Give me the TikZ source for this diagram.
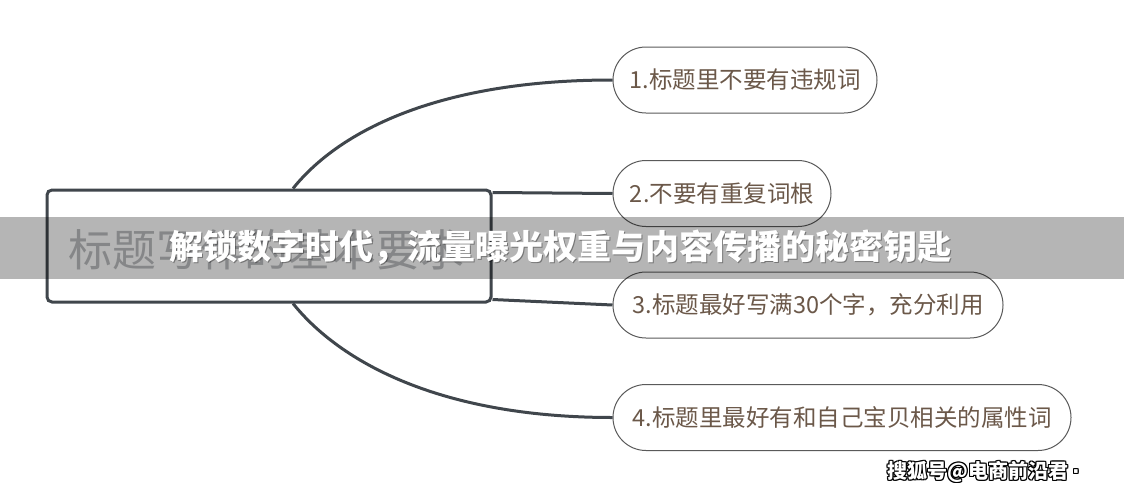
\documentclass[tikz,border=0pt]{standalone}
\usepackage{fontspec}
\newfontfamily\cjk{Noto Sans CJK SC}
\newfontfamily\dejavu{DejaVu Sans}
\usetikzlibrary{calc}
\definecolor{linec}{HTML}{40464C}
\definecolor{pillc}{HTML}{5A5A5A}
\definecolor{txtc}{HTML}{6B5849}
\definecolor{ctxt}{HTML}{BCBEC0}
\tikzset{
  conn/.style={draw=linec,line width=3pt},
  pill/.style={draw=pillc,line width=1pt,rounded corners=33pt,fill=white,
    text=txtc,font=\cjk\fontsize{23.5}{26}\selectfont,inner sep=0pt,
    minimum height=66pt,align=center},
  centerbox/.style={draw=linec,line width=3pt,rounded corners=5pt,
    minimum width=444pt,minimum height=112pt,inner sep=0pt},
  wm/.style={font=\cjk\bfseries\fontsize{20}{22}\selectfont,anchor=west,inner sep=0pt}
}
\begin{document}
\begin{tikzpicture}[x=1pt,y=-1pt]
\useasboundingbox[fill=white] (0,0) rectangle (1124,498);
% central topic
\node[centerbox] (c) at (269,246) {};
\node[text=ctxt,font=\cjk\fontsize{44}{48}\selectfont,inner sep=0pt] (ct) at (266,250) {标题写作的基本要求};
% subtopics
\node[pill,minimum width=264pt] (n1) at (745,80) {1.标题里不要有违规词};
\node[pill,minimum width=218pt] (n2) at (722,193.5) {2.不要有重复词根};
\node[pill,minimum width=390pt] (n3) at (808,305) {3.标题最好写满30个字，充分利用};
\node[pill,minimum width=458pt] (n4) at (842,417.5) {4.标题里最好有和自己宝贝相关的属性词};
% connectors
\coordinate (ctop) at ($(c.north)+(24,0)$);
\coordinate (cbot) at ($(c.south)+(24,0)$);
\draw[conn] (ctop) .. controls (340,130) and (440,80) .. (n1.west);
\draw[conn] ($(c.north east)+(0,4)$) -- (n2.west);
\draw[conn] ($(c.south east)+(0,-4)$) -- (n3.west);
\draw[conn] (cbot) .. controls (340,362) and (440,417.5) .. (n4.west);
% banner overlay
\fill[black,opacity=0.29] (0,216.5) rectangle (1124,279);
\node[text=black,opacity=0.35,font=\cjk\bfseries\fontsize{34}{36}\selectfont,inner sep=0pt] (bts) at (561.5,248.5) {解锁数字时代，流量曝光权重与内容传播的秘密钥匙};
\node[text=white,font=\cjk\bfseries\fontsize{34}{36}\selectfont,inner sep=0pt] (bt) at (560,247) {解锁数字时代，流量曝光权重与内容传播的秘密钥匙};
% watermark
\foreach \dx/\dy in {-1/0,1/0,0/-1,0/1,1/1,-1/-1,1/-1,-1/1}{
  \node[wm,text=black] at (887+\dx,472+\dy) {搜狐号@电商前沿君\hspace{4pt}{\dejavu ·}};
}
\node[wm,text=white] (w) at (887,472) {搜狐号@电商前沿君\hspace{4pt}{\dejavu ·}};
\end{tikzpicture}
\end{document}
